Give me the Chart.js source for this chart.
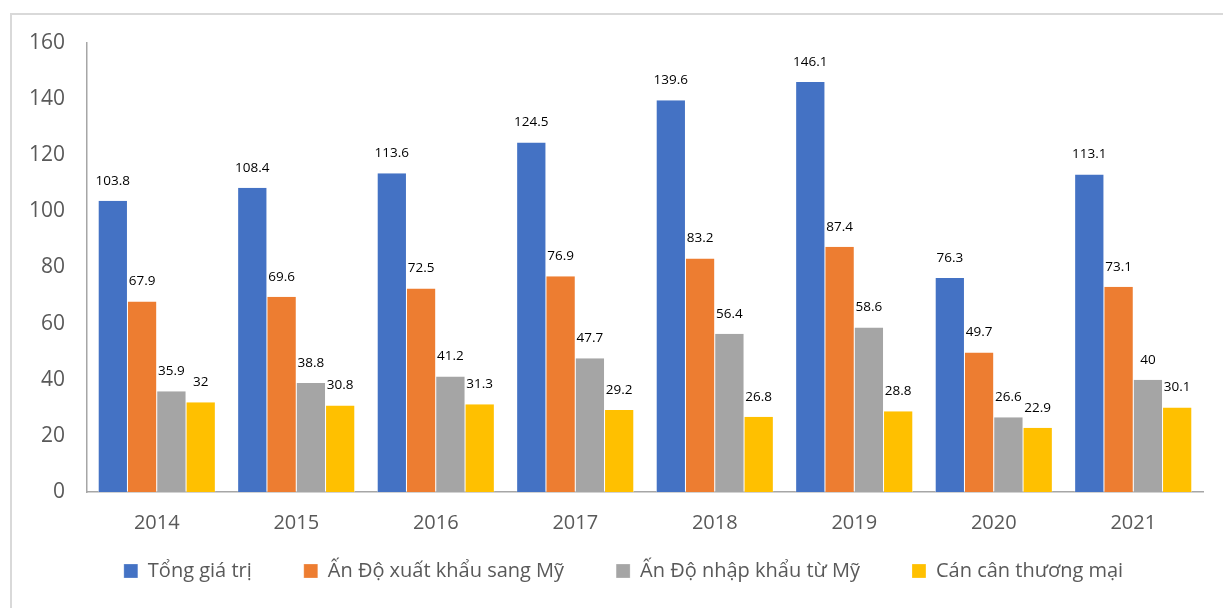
<!DOCTYPE html>
<html>
<head>
<meta charset="utf-8">
<script src="https://cdn.jsdelivr.net/npm/chart.js@4.4.0/dist/chart.umd.min.js"></script>
<style>
  html, body { margin: 0; padding: 0; background: #fff; overflow: hidden; }
  #frame { position: absolute; left: 10px; top: 13px; width: 1400px; height: 800px; border: 2px solid #d9d9d9; }
  #wrap { position: absolute; left: 0; top: 0; width: 1223px; height: 608px; }
</style>
</head>
<body>
<div id="frame"></div>
<div id="wrap"><canvas id="myChart"></canvas></div>

<script>
  // data
  const years = ['2014', '2015', '2016', '2017', '2018', '2019', '2020', '2021'];
  const tongGiaTri = [103.8, 108.4, 113.6, 124.5, 139.6, 146.1, 76.3, 113.1];
  const xuatKhau = [67.9, 69.6, 72.5, 76.9, 83.2, 87.4, 49.7, 73.1];
  const nhapKhau = [35.9, 38.8, 41.2, 47.7, 56.4, 58.6, 26.6, 40];
  const canCan = [32, 30.8, 31.3, 29.2, 26.8, 28.8, 22.9, 30.1];
  const seriesNames = ['Tổng giá trị', 'Ấn Độ xuất khẩu sang Mỹ', 'Ấn Độ nhập khẩu từ Mỹ', 'Cán cân thương mại'];
  const yTicks = [0, 20, 40, 60, 80, 100, 120, 140, 160];

  const colors = ['#4472C4', '#ED7D31', '#A5A5A5', '#FFC000'];

  // small value labels above bars
  const valueLabels = {
    id: 'valueLabels',
    afterDatasetsDraw(chart) {
      const c = chart.ctx;
      c.save();
      c.font = '13.5px "Open Sans", sans-serif';
      c.fillStyle = '#000';
      c.textAlign = 'center';
      c.textBaseline = 'middle';
      chart.data.datasets.forEach((ds, i) => {
        chart.getDatasetMeta(i).data.forEach((bar, j) => {
          c.fillText(String(ds.data[j]), bar.x, bar.y - 20);
        });
      });
      c.restore();
    }
  };

  // wide gaps between legend items but a short legend box
  const legendShift = {
    id: 'legendShift',
    beforeInit(chart) {
      const lg = chart.legend;
      const fit = lg.fit;
      lg.fit = function () { fit.call(this); this.height = 40; };
      const draw = lg._draw;
      lg._draw = function () {
        const c = chart.ctx;
        c.save();
        c.translate(22, -45);
        draw.call(this);
        c.restore();
      };
    }
  };

  const ctx = document.getElementById('myChart');
  const allSeries = [tongGiaTri, xuatKhau, nhapKhau, canCan];

  new Chart(ctx, {
    type: 'bar',
    data: {
      labels: years,
      datasets: allSeries.map((d, i) => ({
        label: seriesNames[i],
        data: d,
        backgroundColor: colors[i],
        borderColor: '#ffffff',
        borderWidth: { left: 0.5, right: 0.5, top: 0, bottom: 0 },
        categoryPercentage: 0.84,
        barPercentage: 1.0
      }))
    },
    options: {
      responsive: true,
      maintainAspectRatio: false,
      animation: false,
      layout: { padding: { left: 0, right: 20, top: 43, bottom: 14 } },
      plugins: {
        tooltip: { enabled: false },
        legend: {
          position: 'bottom',
          labels: {
            boxWidth: 14,
            boxHeight: 14,
            padding: 52,
            color: '#595959',
            font: { size: 20, family: '"Open Sans", sans-serif' }
          }
        }
      },
      scales: {
        x: {
          grid: { display: false, drawTicks: false },
          border: { display: true, color: '#a6a6a6', width: 1.5 },
          ticks: { color: '#595959', padding: 19, font: { size: 20, family: '"Open Sans", sans-serif' } },
          afterFit(s) { s.height = 62; }
        },
        y: {
          min: 0,
          max: 160,
          afterBuildTicks(s) { s.ticks = yTicks.map(v => ({ value: v })); },
          grid: { display: false, drawTicks: false },
          border: { display: true, color: '#a6a6a6', width: 1.5 },
          ticks: { color: '#595959', padding: 22, font: { size: 21, family: '"Open Sans", sans-serif' } },
          afterFit(s) { s.width = 87; }
        }
      }
    },
    plugins: [valueLabels, legendShift]
  });
</script>
</body>
</html>
